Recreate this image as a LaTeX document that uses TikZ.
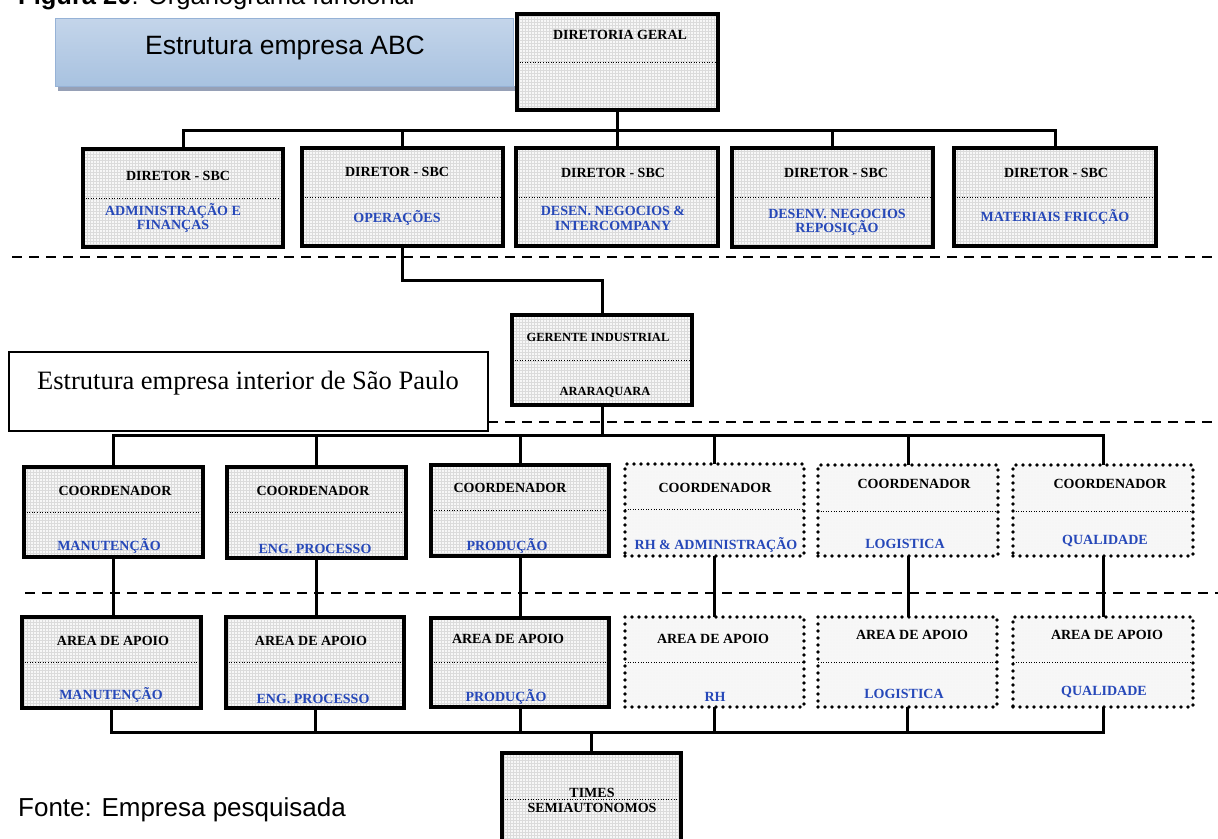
\documentclass[tikz,border=0pt]{standalone}
\usepackage{fontspec}
\setmainfont{Liberation Serif}
\newfontfamily\arialfont{Liberation Sans}
\usetikzlibrary{patterns}

\definecolor{orgblue}{RGB}{38,72,185}
\definecolor{abctop}{RGB}{196,213,234}
\definecolor{abcmid}{RGB}{223,232,243}
\definecolor{abcbot}{RGB}{168,194,224}
\definecolor{abcedge}{RGB}{150,178,214}
\definecolor{abcshade}{RGB}{150,160,182}

\tikzset{
  cell/.style={preaction={fill=gray!6}, pattern=grid, pattern color=gray!28},
  solidbox/.style={cell, draw=black, line width=3.3pt, inner sep=0pt, outer sep=0pt},
  dotbox/.style={cell, draw=black, line width=3.6pt, dash pattern=on 0pt off 7pt,
    line cap=round, inner sep=0pt, outer sep=0pt},
  abcbox/.style={top color=abctop, middle color=abcmid, bottom color=abcbot,
    draw=abcedge, line width=1pt, inner sep=0pt, outer sep=0pt},
  abcstrip/.style={fill=abcshade, inner sep=0pt, outer sep=0pt},
  plainbox/.style={fill=white, draw=black, line width=1.2pt, inner sep=0pt, outer sep=0pt},
  sepline/.style={line width=1pt, dash pattern=on 1pt off 1.6pt},
  conn/.style={line width=3pt},
  divider/.style={line width=2pt, dash pattern=on 10pt off 7pt},
  headtxt/.style={font=\bfseries\fontsize{14}{15}\selectfont, inner sep=0pt, anchor=base},
  subtxt/.style={headtxt, text=orgblue},
  smalltxt/.style={font=\bfseries\fontsize{12.5}{14}\selectfont, inner sep=0pt, anchor=base},
}

% box from (x1,y1) to (x2,y2), y measured downwards
\newcommand{\orgbox}[6]{%
  \pgfmathsetmacro{\obw}{#5-#3}\pgfmathsetmacro{\obh}{#6-#4}%
  \pgfmathsetmacro{\obx}{(#3+#5)/2}\pgfmathsetmacro{\oby}{(#4+#6)/2}%
  \node[#2, minimum width=\obw pt, minimum height=\obh pt] (#1) at (\obx,\oby) {};}

% dotted separator across a box at height #2
\newcommand{\orgsep}[2]{%
  \coordinate (#1-sy) at (0,#2);
  \draw[sepline] (#1.west |- #1-sy) -- (#1.east |- #1-sy);}

\begin{document}
\begin{tikzpicture}[x=1pt,y=-1pt]
\useasboundingbox (0,0) rectangle (1218,838);

% caption
\node[anchor=base west, inner sep=0pt, font=\arialfont\fontsize{25.5}{30}\selectfont]
  (caption) at (18,4) {\textbf{Figura 20}: Organograma funcional};

% section dividers
\coordinate (dl1a) at (12,257);  \coordinate (dl1b) at (1218,257);
\coordinate (dl2a) at (12,422);  \coordinate (dl2b) at (1218,422);
\coordinate (dl3a) at (25,593);  \coordinate (dl3b) at (1218,593);
\draw[divider] (dl1a) -- (dl1b);
\draw[divider] (dl2a) -- (dl2b);
\draw[divider] (dl3a) -- (dl3b);

% headline boxes
\orgbox{abcstrip}{abcstrip}{58}{86}{516}{91}
\orgbox{abc}{abcbox}{55}{18}{513}{86}
\node[anchor=base, inner sep=0pt, font=\arialfont\fontsize{26.5}{30}\selectfont]
  (abctxt) at (285,54) {Estrutura empresa ABC};

\orgbox{interior}{plainbox}{9}{352}{488}{431}
\node[anchor=base west, inner sep=0pt, font=\fontsize{26.5}{30}\selectfont]
  (interiortxt) at (37,389) {Estrutura empresa interior de São Paulo};

% top management
\orgbox{dg}{solidbox}{517}{14}{718}{110}
\orgsep{dg}{62}
\node[headtxt] (dgh) at (620,39) {DIRETORIA GERAL};

% directors
\orgbox{d1}{solidbox}{83}{149}{283}{247}
\orgbox{d2}{solidbox}{302}{148}{503}{246}
\orgbox{d3}{solidbox}{516}{148}{718}{246}
\orgbox{d4}{solidbox}{732}{148}{933}{247}
\orgbox{d5}{solidbox}{954}{148}{1156}{246}
\orgsep{d1}{198}\orgsep{d2}{197}\orgsep{d3}{197}\orgsep{d4}{197}\orgsep{d5}{197}
\node[headtxt] (d1h) at (178,180) {DIRETOR - SBC};
\node[subtxt] (d1s) at (173,215) {ADMINISTRAÇÃO E};
\node[subtxt] (d1t) at (173,229) {FINANÇAS};
\node[headtxt] (d2h) at (397,176) {DIRETOR - SBC};
\node[subtxt] (d2s) at (397,222) {OPERAÇÕES};
\node[headtxt] (d3h) at (613,177) {DIRETOR - SBC};
\node[subtxt] (d3s) at (613,215) {DESEN. NEGOCIOS \&};
\node[subtxt] (d3t) at (613,230) {INTERCOMPANY};
\node[headtxt] (d4h) at (836,177) {DIRETOR - SBC};
\node[subtxt] (d4s) at (837,218) {DESENV. NEGOCIOS};
\node[subtxt] (d4t) at (837,232) {REPOSIÇÃO};
\node[headtxt] (d5h) at (1056,177) {DIRETOR - SBC};
\node[subtxt] (d5s) at (1055,221) {MATERIAIS FRICÇÃO};

% plant manager
\orgbox{ger}{solidbox}{512}{315}{692}{405}
\orgsep{ger}{360}
\node[smalltxt] (gerh) at (598,341) {GERENTE INDUSTRIAL};
\node[smalltxt] (gers) at (605,395) {ARARAQUARA};

% coordinators
\orgbox{c1}{solidbox}{24}{467}{203}{557}
\orgbox{c2}{solidbox}{227}{467}{406}{558}
\orgbox{c3}{solidbox}{431}{465}{609}{556}
\orgbox{c4}{dotbox}{625}{464}{804}{556}
\orgbox{c5}{dotbox}{818}{465}{998}{556}
\orgbox{c6}{dotbox}{1013}{465}{1193}{556}
\orgsep{c1}{512}\orgsep{c2}{512}\orgsep{c3}{510}
\orgsep{c4}{509}\orgsep{c5}{511}\orgsep{c6}{511}
\node[headtxt] (c1h) at (115,495) {COORDENADOR};
\node[subtxt]  (c1s) at (109,550) {MANUTENÇÃO};
\node[headtxt] (c2h) at (313,495) {COORDENADOR};
\node[subtxt]  (c2s) at (315,553) {ENG. PROCESSO};
\node[headtxt] (c3h) at (510,492) {COORDENADOR};
\node[subtxt]  (c3s) at (507,550) {PRODUÇÃO};
\node[headtxt] (c4h) at (715,492) {COORDENADOR};
\node[subtxt]  (c4s) at (716,549) {RH \& ADMINISTRAÇÃO};
\node[headtxt] (c5h) at (914,488) {COORDENADOR};
\node[subtxt]  (c5s) at (905,548) {LOGISTICA};
\node[headtxt] (c6h) at (1110,488) {COORDENADOR};
\node[subtxt]  (c6s) at (1105,544) {QUALIDADE};

% support areas
\orgbox{a1}{solidbox}{22}{617}{201}{708}
\orgbox{a2}{solidbox}{226}{617}{404}{708}
\orgbox{a3}{solidbox}{431}{618}{609}{707}
\orgbox{a4}{dotbox}{625}{617}{804}{707}
\orgbox{a5}{dotbox}{818}{617}{997}{707}
\orgbox{a6}{dotbox}{1013}{617}{1193}{707}
\orgsep{a1}{662}\orgsep{a2}{662}\orgsep{a3}{662}
\orgsep{a4}{662}\orgsep{a5}{662}\orgsep{a6}{662}
\node[headtxt] (a1h) at (113,645) {AREA DE APOIO};
\node[subtxt]  (a1s) at (111,699) {MANUTENÇÃO};
\node[headtxt] (a2h) at (311,645) {AREA DE APOIO};
\node[subtxt]  (a2s) at (313,703) {ENG. PROCESSO};
\node[headtxt] (a3h) at (508,643) {AREA DE APOIO};
\node[subtxt]  (a3s) at (506,701) {PRODUÇÃO};
\node[headtxt] (a4h) at (713,643) {AREA DE APOIO};
\node[subtxt]  (a4s) at (715,701) {RH};
\node[headtxt] (a5h) at (912,639) {AREA DE APOIO};
\node[subtxt]  (a5s) at (904,698) {LOGISTICA};
\node[headtxt] (a6h) at (1107,639) {AREA DE APOIO};
\node[subtxt]  (a6s) at (1104,695) {QUALIDADE};

% teams
\orgbox{times}{solidbox}{502}{753}{681}{855}
\orgsep{times}{799}
\node[headtxt] (timesh) at (592,797) {TIMES};
\node[headtxt] (timess) at (592,812) {SEMIAUTONOMOS};

% source
\node[anchor=base west, inner sep=0pt, font=\arialfont\fontsize{26}{30}\selectfont]
  (source) at (18,816) {Fonte: Empresa pesquisada};

% connectors
\coordinate (bus1) at (617,130);
\coordinate (bend) at (500,280);
\coordinate (bus2) at (602,435);
\coordinate (bus3) at (591,732);

\draw[conn] (dg.south) -- (dg.south |- bus1);
\foreach \n in {d1,d2,d3,d4,d5} \draw[conn] (\n.north) |- (bus1);
\draw[conn] (d2.south) |- (bend) -| (ger.north);
\draw[conn] (ger.south) -- (ger.south |- bus2);
\foreach \n in {c1,c2,c3,c4,c5,c6} \draw[conn] (\n.north) |- (bus2);
\foreach \n/\m in {c1/a1,c2/a2,c3/a3,c4/a4,c5/a5,c6/a6}
  \draw[conn] (\n.south) -- (\n.south |- \m.north);
\foreach \n in {a1,a2,a3,a4,a5,a6} \draw[conn] (\n.south) |- (bus3);
\draw[conn] (bus3) -- (bus3 |- times.north);
\end{tikzpicture}
\end{document}
